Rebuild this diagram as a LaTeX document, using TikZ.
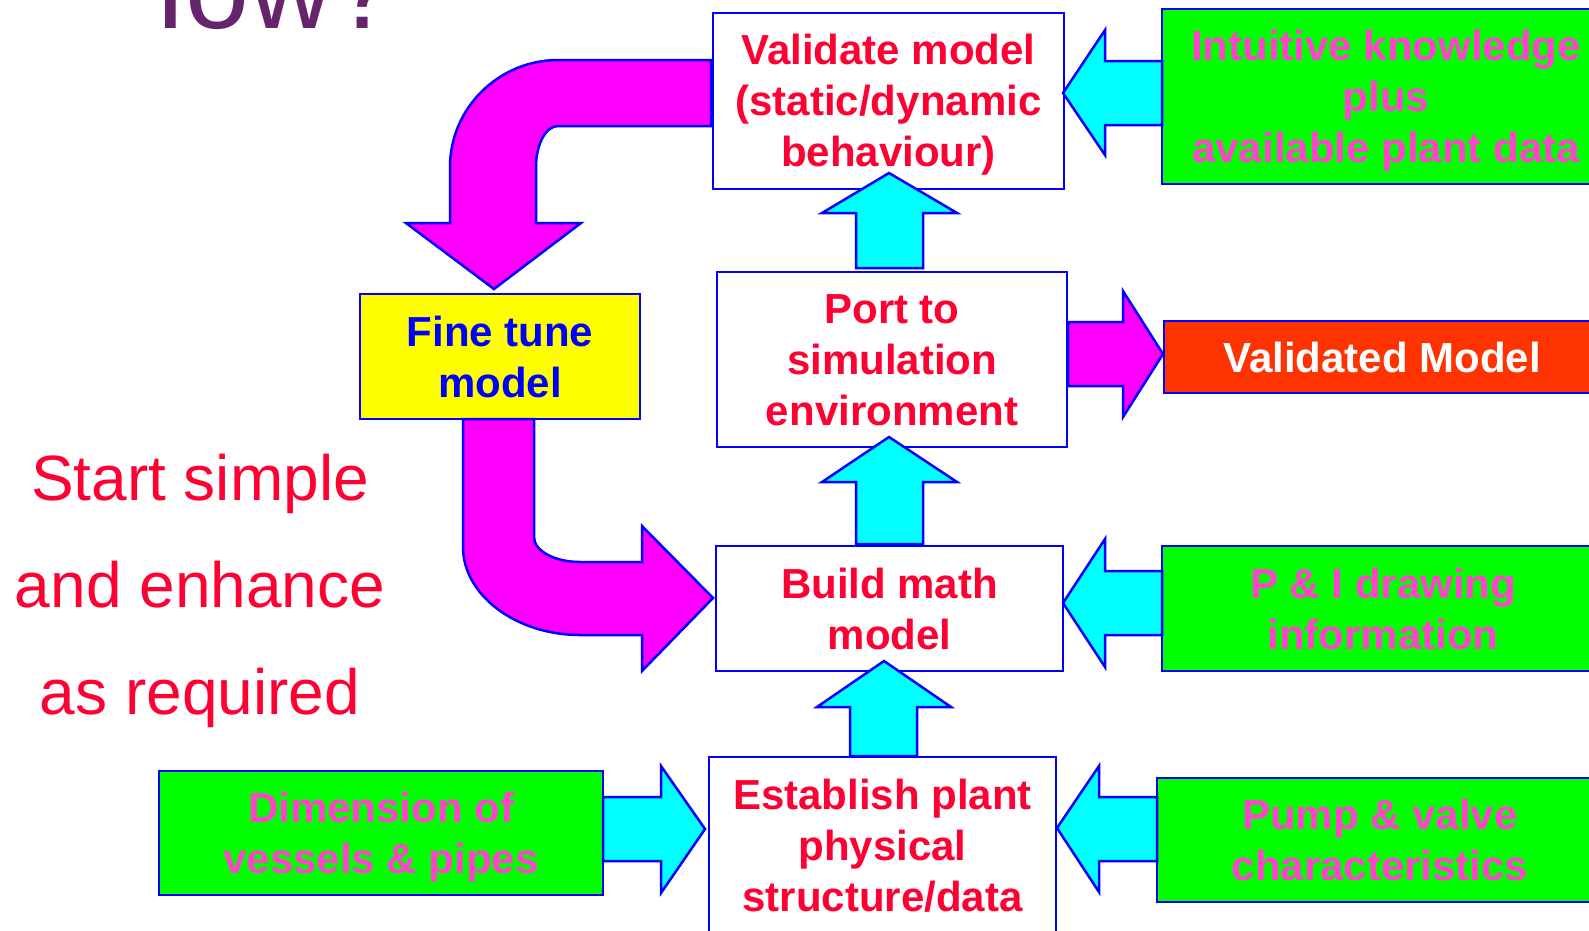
\documentclass[tikz,border=0pt]{standalone}
\usepackage{fontspec}
\setmainfont{Liberation Sans}
\definecolor{cyanA}{RGB}{0,255,255}
\definecolor{magA}{RGB}{255,0,255}
\definecolor{greenA}{RGB}{0,255,0}
\definecolor{yellowA}{RGB}{255,255,0}
\definecolor{orangeA}{RGB}{255,51,0}
\definecolor{blueA}{RGB}{0,0,255}
\definecolor{redT}{RGB}{255,0,51}
\definecolor{pinkT}{RGB}{255,68,204}
\definecolor{purpleT}{RGB}{102,36,106}
\newcommand{\tS}{\rule{0pt}{38pt}}
\newcommand{\bS}{\rule[-8pt]{0pt}{8pt}}
\begin{document}
\begin{tikzpicture}[x=1pt,y=-1pt,
  box/.style={draw=blueA, line width=2.5pt, inner sep=0pt, align=center,
    font=\fontsize{42}{51}\selectfont\bfseries},
  whitebox/.style={box, fill=white, text=redT},
  greenbox/.style={box, fill=greenA, text=pinkT},
  cyanarrow/.style={draw=blueA, fill=cyanA, line width=2.5pt, line join=miter},
  magarrow/.style={draw=blueA, fill=magA, line width=2.5pt, line join=miter},
  sidetext/.style={font=\fontsize{64}{64}\selectfont, text=redT, anchor=base, inner sep=0pt}]
\useasboundingbox (0,0) rectangle (1589,930);
\fill[white] (0,0) rectangle (1589,930);

% title (cut at the top)
\begin{scope}
  \clip (150,0) rectangle (420,40);
  \node[font=\fontsize{115}{115}\selectfont, text=purpleT, anchor=base west, inner sep=0pt] (how) at (102.5,28) {How?};
\end{scope}

% boxes
\node[whitebox, minimum width=351pt, minimum height=176pt] (val) at (888.5,101) {\tS Validate model\\(static/dynamic\\behaviour)\bS};
\node[whitebox, minimum width=350pt, minimum height=175pt] (port) at (892,359.5) {\tS Port to\\simulation\\environment\bS};
\node[whitebox, minimum width=347pt, minimum height=125pt] (build) at (889.5,608.5) {\tS Build math\\model\bS};
\node[whitebox, minimum width=347pt, minimum height=176pt] (est) at (882.5,845) {\tS Establish plant\\physical\\structure/data\bS};
\node[box, fill=yellowA, text=blueA, minimum width=280pt, minimum height=125pt] (fine) at (500,356.5) {\tS Fine tune\\model\bS};
\node[greenbox, minimum width=448pt, minimum height=175pt] (intu) at (1386,96.5) {\tS Intuitive knowledge\\plus\\available plant data\bS};
\node[box, fill=orangeA, text=white, minimum width=436pt, minimum height=72pt] (vm) at (1382,357) {\tS Validated Model\bS};
\node[greenbox, minimum width=442pt, minimum height=125pt] (pid) at (1383,608.5) {\tS P \& I drawing\\information\bS};
\node[greenbox, minimum width=446pt, minimum height=124pt] (pump) at (1380,840) {\tS Pump \& valve\\characteristics\bS};
\node[greenbox, minimum width=444pt, minimum height=124pt] (dim) at (381,833) {\tS Dimension of\\vessels \& pipes\bS};

% side text
\node[sidetext] (s1) at (200,500) {Start simple};
\node[sidetext] (s2) at (200,607) {and enhance};
\node[sidetext] (s3) at (200,714) {as required};

% cyan block arrows up
\draw[cyanarrow] (856,268) -- (856,213) -- (822,213) -- (889,173) -- (957,213) -- (923,213) -- (923,268) -- cycle;
\draw[cyanarrow] (856,544) -- (856,482) -- (822,482) -- (889,437) -- (957,482) -- (923,482) -- (923,544) -- cycle;
\draw[cyanarrow] (850,756) -- (850,707) -- (817,707) -- (884,661) -- (951,707) -- (917,707) -- (917,756) -- cycle;

% cyan block arrows left / right
\draw[cyanarrow] (1162,61) -- (1105,61) -- (1105,30) -- (1063,93) -- (1105,155) -- (1105,125) -- (1162,125) -- cycle;
\draw[cyanarrow] (1162,571) -- (1105,571) -- (1105,539) -- (1063,603) -- (1105,667) -- (1105,635) -- (1162,635) -- cycle;
\draw[cyanarrow] (1157,797) -- (1099,797) -- (1099,766) -- (1057,828) -- (1099,892) -- (1099,861) -- (1157,861) -- cycle;
\draw[cyanarrow] (603,797) -- (661,797) -- (661,766) -- (705,829) -- (661,893) -- (661,861) -- (603,861) -- cycle;

% magenta arrows
\draw[magarrow] (1068,322) -- (1123,322) -- (1123,291) -- (1163,354) -- (1123,417) -- (1123,386) -- (1068,386) -- cycle;
\draw[magarrow] (711,60) -- (558,60) .. controls (499,60) and (450,108) .. (450,167) -- (450,223) -- (406,223) -- (494,289) -- (581,223) -- (536,223) -- (536,167) .. controls (536,144) and (546,126) .. (558,126) -- (711,126) -- cycle;
\draw[magarrow] (463,419) -- (463,547) .. controls (463,595) and (516,635) .. (580,635) -- (642,635) -- (642,671) -- (713,598) -- (642,526) -- (642,562) -- (580,562) .. controls (555,562) and (534,551) .. (534,537) -- (534,419) -- cycle;
\end{tikzpicture}
\end{document}
